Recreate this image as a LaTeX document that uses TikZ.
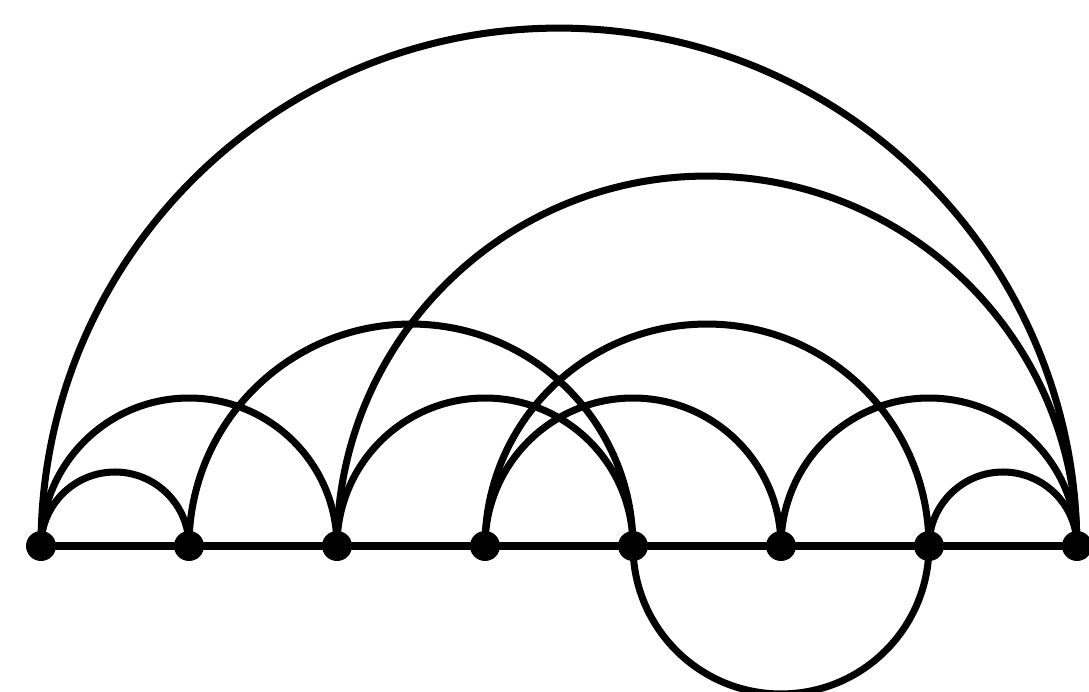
\documentclass[tikz,border=0pt]{standalone}
\begin{document}
\begin{tikzpicture}[x=0.02cm,y=0.02cm,
  edge/.style={line width=4pt},
  dot/.style={circle,fill=black,inner sep=0pt,minimum size=0.6cm}]
\useasboundingbox (0,0) rectangle (1089,692);
\foreach \i/\x in {0/41,1/189,2/337,3/485,4/633,5/781,6/929,7/1077}
  \coordinate (c\i) at (\x,146);
% straight line
\draw[edge] (c0) -- (c7);
% upper arcs (semicircles), radius in units of 148px = 2.96cm
\draw[edge] (c0) arc[start angle=180,end angle=0,radius=1.48cm];
\draw[edge] (c0) arc[start angle=180,end angle=0,radius=2.96cm];
\draw[edge] (c0) arc[start angle=180,end angle=0,radius=10.36cm];
\draw[edge] (c1) arc[start angle=180,end angle=0,radius=4.44cm];
\draw[edge] (c2) arc[start angle=180,end angle=0,radius=2.96cm];
\draw[edge] (c2) arc[start angle=180,end angle=0,radius=7.40cm];
\draw[edge] (c3) arc[start angle=180,end angle=0,radius=2.96cm];
\draw[edge] (c3) arc[start angle=180,end angle=0,radius=4.44cm];
\draw[edge] (c5) arc[start angle=180,end angle=0,radius=2.96cm];
\draw[edge] (c6) arc[start angle=180,end angle=0,radius=1.48cm];
% lower arc
\draw[edge] (c4) arc[start angle=180,end angle=360,radius=2.96cm];
% vertices
\foreach \i in {0,...,7}
  \node[dot] (n\i) at (c\i) {};
\end{tikzpicture}
\end{document}
